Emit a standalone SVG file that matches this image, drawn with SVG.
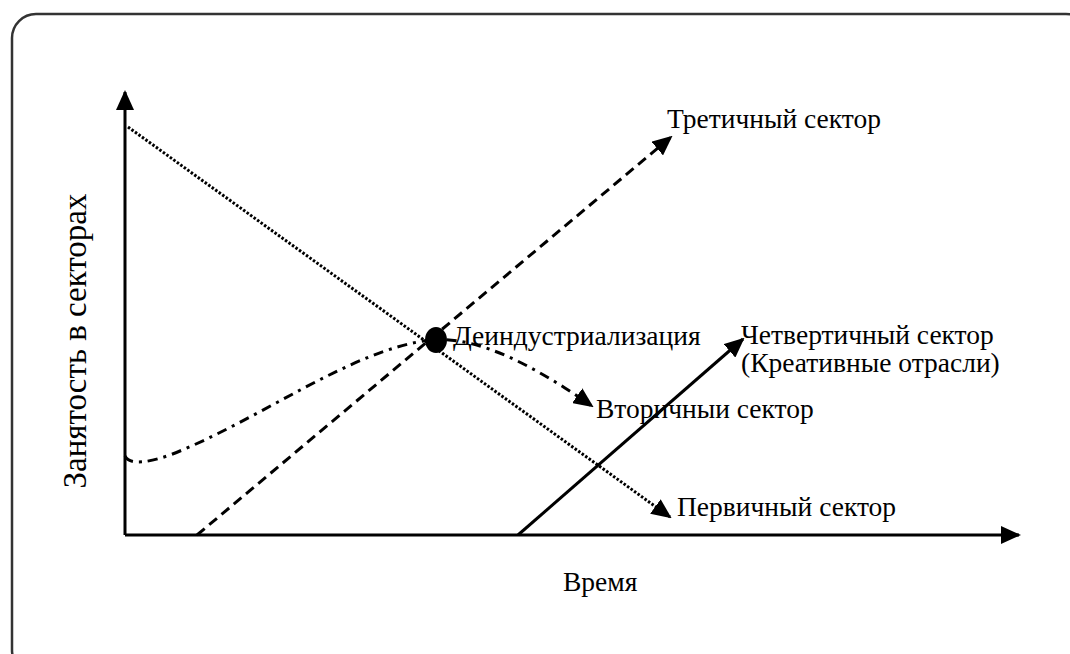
<svg xmlns="http://www.w3.org/2000/svg" width="1070" height="654" viewBox="0 0 1070 654">
<style>
text{font-family:"Liberation Serif","Times New Roman",serif;font-size:27.5px;fill:#000}
.ln{fill:none;stroke:#000;stroke-width:3}
.dot{stroke-width:3;stroke-dasharray:2.5 1.8}
.dash{stroke-dasharray:10 6}
.dd{stroke-dasharray:10 6 3 6}
</style>
<defs>
<marker id="ah" viewBox="0 0 20 18" refX="18" refY="9" markerWidth="20" markerHeight="18" markerUnits="userSpaceOnUse" orient="auto">
<path d="M0,0 L20,9 L0,18 Z" fill="#000"/>
</marker>
</defs>
<rect x="12" y="14" width="1078" height="660" rx="24" fill="#fff" stroke="#333" stroke-width="2.5"/>
<g id="axes">
<path class="ln" d="M125,535 V92" marker-end="url(#ah)"/>
<path class="ln" d="M125,535 H1019" marker-end="url(#ah)"/>
</g>
<g id="connectors">
<path class="ln dot" d="M128,127 L670,517" marker-end="url(#ah)"/>
<path class="ln dash" d="M197,535 L671,137" marker-end="url(#ah)"/>
<path class="ln dd" d="M125,456 C130,466 150,462 170,455 C260,420 350,350 430,340 C480,335 540,370 592,406" marker-end="url(#ah)"/>
<path class="ln" d="M518,535 L743,339" marker-end="url(#ah)"/>
</g>
<g id="deindustrialization">
<ellipse cx="436" cy="340" rx="11" ry="13" fill="#000"/>
<text x="453" y="345">Деиндустриализация</text>
</g>
<g id="tertiary"><text x="667" y="128">Третичный сектор</text></g>
<g id="quaternary"><text x="741" y="344">Четвертичный сектор</text><text x="741" y="372">(Креативные отрасли)</text></g>
<g id="secondary"><text x="596" y="418">Вторичныи сектор</text></g>
<g id="primary"><text x="677" y="516">Первичный сектор</text></g>
<g id="xlabel"><text x="563" y="591">Время</text></g>
<g id="ylabel"><text transform="translate(86,341) rotate(-90)" text-anchor="middle" style="font-size:33px">Занятость в секторах</text></g>
</svg>
